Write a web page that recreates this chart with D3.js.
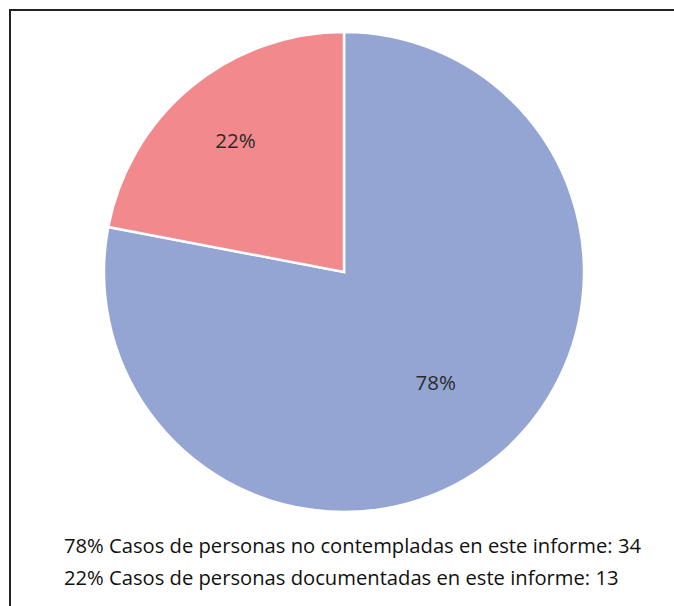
<!DOCTYPE html>
<html>
<head>
<meta charset="utf-8">
<script src="https://cdn.jsdelivr.net/npm/d3@7"></script>
<style>
  body { margin: 0; background: #fff; }
  svg { display: block; }
  text { font-family: "Open Sans", Lato, sans-serif; }
</style>
</head>
<body>
<div id="chart"></div>
<script>
"use strict"
// Data
var categories = ["Casos de personas no contempladas en este informe", "Casos de personas documentadas en este informe"]
var percents = [78, 22]
var counts = [34, 13]
var colors = ["#94a5d4", "#f28a8d"]

var width = 674
var height = 606
var cx = 344, cy = 272, radius = 240

var svg = d3.select("#chart").append("svg")
    .attr("width", width)
    .attr("height", height)

// frame (runs off the right and bottom edge)
svg.append("rect")
    .attr("x", 10).attr("y", 10)
    .attr("width", width + 20).attr("height", height + 20)
    .attr("fill", "none")
    .attr("stroke", "#222")
    .attr("stroke-width", 2)

var data = percents.map(function(p, i) {
  return {name: categories[i], pct: p, count: counts[i], color: colors[i]}
})

var pie = d3.pie().sort(null).value(function(d) { return d.pct })
var arc = d3.arc().innerRadius(0).outerRadius(radius)

var g = svg.append("g").attr("transform", "translate(" + cx + "," + cy + ")")

var arcs = pie(data)

g.selectAll("path.slice")
  .data(arcs)
  .enter().append("path")
    .attr("class", "slice")
    .attr("d", arc)
    .attr("fill", function(d) { return d.data.color })
    .attr("stroke", "#fff")
    .attr("stroke-width", 2.5)

// labels: big slice sits a bit closer to the middle
g.selectAll("text.pct")
  .data(arcs)
  .enter().append("text")
    .attr("class", "pct")
    .attr("transform", function(d) {
      var a = (d.startAngle + d.endAngle) / 2
      var r = radius * (d.data.pct > 50 ? 0.6 : 0.71)
      return "translate(" + (Math.sin(a) * r) + "," + (-Math.cos(a) * r) + ")"
    })
    .attr("text-anchor", "middle")
    .attr("dy", "0.35em")
    .attr("font-size", 20.5)
    .attr("fill", "#2b2b2b")
    .text(function(d) { return d.data.pct + "%" })

// legend
svg.selectAll("text.legend")
  .data(data)
  .enter().append("text")
    .attr("class", "legend")
    .attr("x", 64)
    .attr("y", function(d, i) { return 553 + i * 32 })
    .attr("font-size", 20.2)
    .attr("fill", "#111")
    .text(function(d) { return d.pct + "% " + d.name + ": " + d.count })
</script>
</body>
</html>
